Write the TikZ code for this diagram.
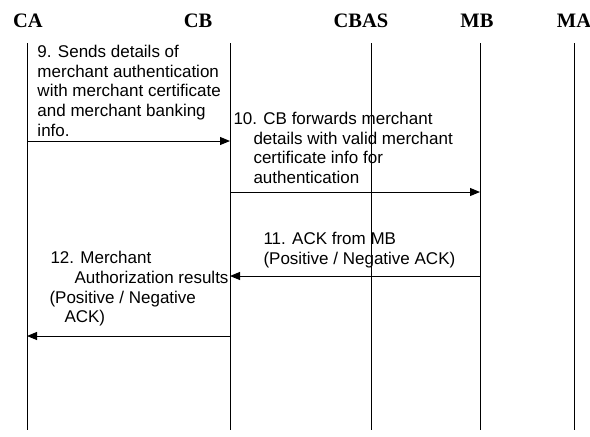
\documentclass[tikz,border=0pt]{standalone}
\usepackage{fontspec}
\usepackage{tikz}
\usetikzlibrary{arrows.meta, positioning}
\newfontfamily\headfont{Liberation Serif}
\newfontfamily\msgfont{Liberation Sans}

\begin{document}
\begin{tikzpicture}[x=1pt, y=-1pt, line width=1pt,
	head/.style={font=\headfont\bfseries\fontsize{20.5}{24}\selectfont, anchor=base, inner sep=0pt},
	msgtext/.style={font=\msgfont\fontsize{17}{19.7}\selectfont, align=left, anchor=north west, inner sep=0pt},
	msg/.style={-{Triangle[length=10pt, width=8pt]}}]
	\useasboundingbox (0,0) rectangle (590,437);
	
	% entities and lifelines
	\foreach \name/\hx/\lx/\lbl in {ca/28/27/CA, cb/198/230/CB, cbas/361/371/CBAS, mb/477/480/MB, ma/574/574/MA} {
		\node[head] (\name) at (\hx,27) {\lbl};
		\coordinate (\name top) at (\lx,43);
		\coordinate (\name bot) at (\lx,430);
		\draw (\name top) -- (\name bot);
	}
	
	% messages
	\foreach \n/\from/\to/\y in {9/ca/cb/141, 10/cb/mb/192, 11/mb/cb/276, 12/cb/ca/336} {
		\coordinate (from\n) at (\from top |- 0,\y);
		\coordinate (to\n) at (\to top |- 0,\y);
		\draw[msg] (from\n) -- (to\n);
	}
	
	\node[msgtext] (t9) at (37,44.5) {9. Sends details of\\merchant authentication\\with merchant certificate\\and merchant banking\\info.};
	\node[msgtext] (t10) at (233,111.5) {10. CB forwards merchant\\\hspace*{20pt}details with valid merchant\\\hspace*{20pt}certificate info for\\\hspace*{20pt}authentication};
	\node[msgtext] (t11) at (263,231.5) {11. ACK from MB\\(Positive / Negative ACK)};
	\node[msgtext] (t12) at (49,251) {\hspace*{1pt}12. Merchant\\\hspace*{25pt}Authorization results\\(Positive / Negative\\\hspace*{15pt}ACK)};
\end{tikzpicture}
\end{document}
